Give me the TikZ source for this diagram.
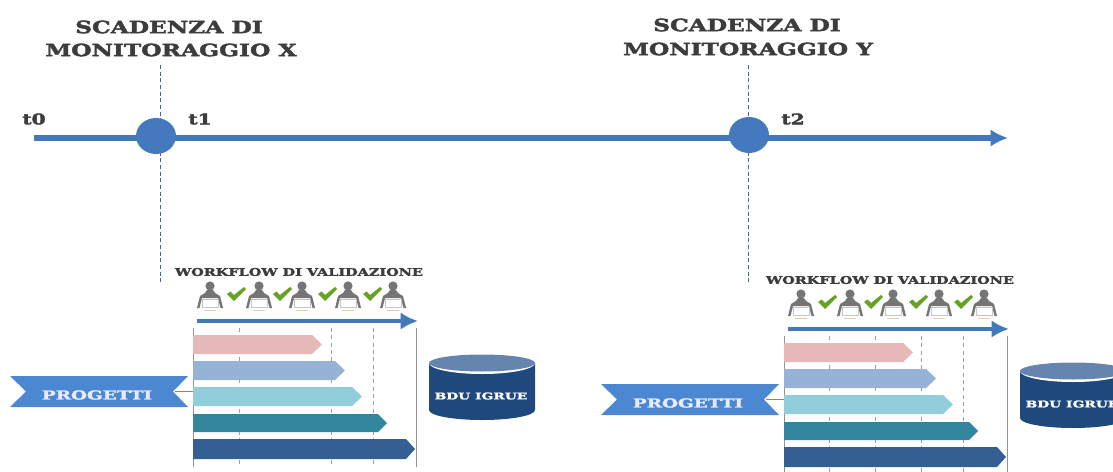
\documentclass[tikz,border=0pt]{standalone}
\usepackage{fontspec}
\newfontfamily\slabfont{DejaVu Serif Bold}[FakeStretch=1.38,FakeBold=2.4]
\newfontfamily\slabfontb{DejaVu Serif Bold}[FakeStretch=1.5,FakeBold=2.2]
\usetikzlibrary{arrows.meta,shapes.geometric}
\definecolor{lineblue}{HTML}{4279BC}
\definecolor{dotblue}{HTML}{4579BD}
\definecolor{ink}{HTML}{3C3C3C}
\definecolor{rib}{HTML}{4C88D2}
\definecolor{bdark}{HTML}{1F497D}
\definecolor{btop}{HTML}{6685AE}
\definecolor{pgrey}{HTML}{757575}
\definecolor{chk}{HTML}{67A226}
\tikzset{
  px/.style={x=0.75pt,y=-0.75pt},
  title/.style={font=\slabfont\fontsize{12.7}{14}\selectfont,text=ink,inner sep=0pt},
  tlabel/.style={font=\slabfont\fontsize{11}{13}\selectfont,text=ink,inner sep=0pt},
  wftitle/.style={font=\slabfont\fontsize{7.85}{9}\selectfont,text=ink,inner sep=0pt},
  ribtext/.style={font=\slabfontb\fontsize{9.2}{11}\selectfont,text=white!92!blue,inner sep=0pt},
  dbtext/.style={font=\slabfontb\fontsize{6.9}{9}\selectfont,text=white,inner sep=0pt},
  axis/.style={draw=lineblue,line width=4pt,-{Latex[length=13pt,width=13pt]}},
  flow/.style={draw=lineblue,line width=3.4pt,-{Latex[length=13pt,width=13pt]}},
  vdash/.style={draw=dotblue!85!black,line width=0.7pt,dash pattern=on 3pt off 2pt},
  dot/.style={ellipse,fill=dotblue,draw=none,minimum width=30pt,minimum height=27pt,inner sep=0pt},
  gridsolid/.style={draw=gray!85,line width=0.7pt},
  griddash/.style={draw=gray!75,line width=0.6pt,dash pattern=on 3pt off 2.5pt},
  tie/.style={draw=brown!60!gray,line width=0.7pt},
  pics/person/.style={code={
    \fill[pgrey] (0,-10) circle[radius=4.6];
    \fill[pgrey] (-3,-6)--(3,-6)--(5,-3)--(10,0)--(13,12)--(10.5,12)--(8,2)--(-8,2)--(-10.5,12)--(-13,12)--(-10,0)--(-5,-3)--cycle;
    \draw[gray!45,line width=0.4pt,fill=white] (-8,3) rectangle (8,11.5);
    \draw[gray!50!orange!40,line width=0.7pt] (-6,14)--(6,14);
  }},
  pics/tick/.style={code={
    \fill[chk] (-9,0)--(-5.5,-2.5)--(-2,1)--(8,-7)--(10,-5)--(-2,7)--cycle;
  }}
}
\newcommand{\bararrow}[5]{% y0,y1,xbody,xtip,colour
  \fill[#5] (193,#1)--(#3,#1)--(#4,{(#1+#2)/2})--(#3,#2)--(193,#2)--cycle;
}
\definecolor{b1}{HTML}{E6B9B8}
\definecolor{b2}{HTML}{95B3D7}
\definecolor{b3}{HTML}{92CDDC}
\definecolor{b4}{HTML}{31859C}
\definecolor{b5}{HTML}{335F93}
\newcommand{\wfgroup}[3]{% prefix, shift, extra grid x
  \begin{scope}[shift={#2}]
    % grid
    \coordinate (#1g0a) at (193,328); \coordinate (#1g0b) at (193,467);
    \coordinate (#1g9a) at (416,328); \coordinate (#1g9b) at (416,467);
    \draw[gridsolid] (#1g0a)--(#1g0b);
    \draw[gridsolid] (#1g9a)--(#1g9b);
    \foreach \gx in {#3} {\draw[griddash] (\gx,328)--(\gx,467);}
    % bars
    \bararrow{335}{354}{312}{322}{b1}
    \bararrow{361}{380}{335}{345}{b2}
    \bararrow{387}{406}{352}{362}{b3}
    \bararrow{414}{432}{378}{387}{b4}
    \bararrow{439}{459}{406}{415}{b5}
    % flow arrow
    \coordinate (#1fa) at (197,321); \coordinate (#1fb) at (418,321);
    \draw[flow] (#1fa)--(#1fb);
    % persons and checks
    \foreach \px in {210,259,302,348,393} {\pic at (\px,296) {person};}
    \foreach \cx in {236,282,327,372} {\pic at (\cx,294) {tick};}
    \node[wftitle] (#1wf) at (299,272) {WORKFLOW DI VALIDAZIONE};
    % ribbon
    \fill[rib] (10,376)--(188,376)--(173,391.5)--(188,407)--(10,407)--(26,391.5)--cycle;
    \node[ribtext] (#1rib) at (97,395) {PROGETTI};
    \coordinate (#1ta) at (175,391); \coordinate (#1tb) at (193,391);
    \draw[tie] (#1ta)--(#1tb);
    % database
    \fill[bdark] (429,363) -- (429,410) arc[start angle=180,end angle=0,x radius=53,y radius=10] -- (535,363) -- cycle;
    \fill[white] (429,363) arc[start angle=180,end angle=0,x radius=53,y radius=11] -- cycle;
    \fill[btop] (482,363) ellipse[x radius=53,y radius=8.5];
    \node[dbtext] (#1db) at (481,396) {BDU IGRUE};
  \end{scope}
}
\begin{document}
\begin{tikzpicture}[px]
\useasboundingbox (0,0) rectangle (1113,471);
\clip (0,0) rectangle (1113,471);
\fill[white] (0,0) rectangle (1113,471);
\wfgroup{L}{(0,0)}{239,331,373}
\wfgroup{R}{(591,8)}{238,284,330,372}
\coordinate (dxa) at (160,65); \coordinate (dxb) at (160,283);
\coordinate (dya) at (748,65); \coordinate (dyb) at (748,283);
\draw[vdash] (dxa)--(dxb);
\draw[vdash] (dya)--(dyb);
\coordinate (ax0) at (34,138); \coordinate (ax1) at (1008,138);
\draw[axis] (ax0)--(ax1);
\node[dot] (mx) at (156,136) {};
\node[dot] (my) at (749,135) {};
\node[tlabel] (t0) at (34,119) {t0};
\node[tlabel] (t1) at (200,119) {t1};
\node[tlabel] (t2) at (793,119) {t2};
\node[title] (sx1) at (169,27) {SCADENZA DI};
\node[title] (sx2) at (171,50) {MONITORAGGIO X};
\node[title] (sy1) at (747,25) {SCADENZA DI};
\node[title] (sy2) at (748,49) {MONITORAGGIO Y};
\end{tikzpicture}
\end{document}
